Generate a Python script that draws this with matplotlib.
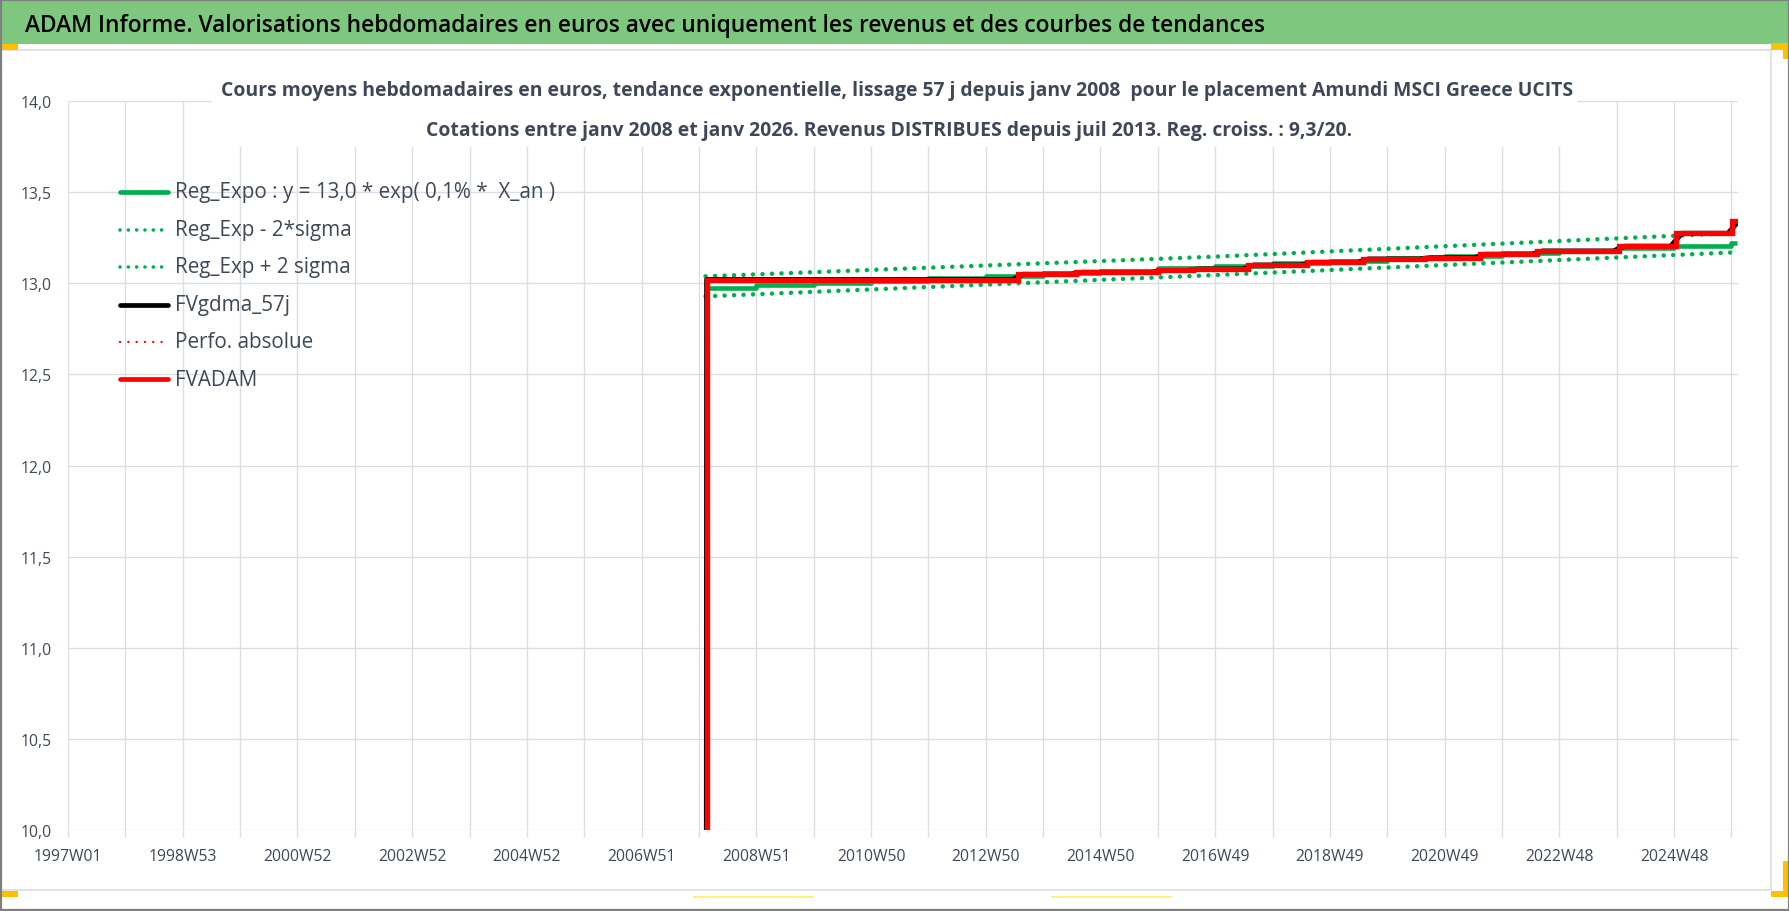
import matplotlib
matplotlib.use('Agg')
import matplotlib.pyplot as plt
from matplotlib.lines import Line2D
from matplotlib.patches import Rectangle
from matplotlib.ticker import FuncFormatter

# ---- data ----
tick_labels = ['1997W01', '1998W53', '2000W52', '2002W52', '2004W52', '2006W51',
               '2008W51', '2010W50', '2012W50', '2014W50', '2016W49', '2018W49',
               '2020W49', '2022W48', '2024W48']
n_weeks = 1514          # weekly categories from 1997W01 to janv 2026

# exponential regression (steps once a year)
trend_weeks = [578, 624, 676, 728, 780, 832, 884, 936, 988, 1040, 1092, 1144,
               1196, 1248, 1300, 1352, 1404, 1456, 1508, 1513]
trend_values = [12.974, 12.988, 13.001, 13.015, 13.028, 13.042, 13.056, 13.069,
                13.083, 13.096, 13.110, 13.124, 13.137, 13.151, 13.165, 13.178,
                13.192, 13.205, 13.219, 13.219]

# +/- 2 sigma bands
band_weeks = [578, 1040, 1513]
band_low = [12.928, 13.045, 13.170]
band_high = [13.038, 13.146, 13.276]

# FVADAM (value with distributed revenues)
fvadam_weeks = [578, 579, 861, 914, 988, 1020, 1070, 1123, 1174, 1230, 1280,
                1332, 1406, 1458, 1509, 1513]
fvadam_values = [0.0, 13.020, 13.049, 13.060, 13.070, 13.078, 13.100, 13.115,
                 13.133, 13.140, 13.159, 13.177, 13.203, 13.274, 13.343, 13.343]

# FVgdma_57j (smoothed)
gdma_weeks = [578, 579, 856, 866, 909, 919, 983, 993, 1015, 1025, 1065, 1075,
              1118, 1128, 1169, 1179, 1225, 1235, 1275, 1285, 1327, 1337, 1401,
              1411, 1453, 1463, 1505, 1513]
gdma_values = [0.0, 13.020, 13.020, 13.049, 13.049, 13.060, 13.060, 13.070,
               13.070, 13.078, 13.078, 13.100, 13.100, 13.115, 13.115, 13.133,
               13.133, 13.140, 13.140, 13.159, 13.159, 13.177, 13.177, 13.203,
               13.203, 13.274, 13.274, 13.330]

legend_labels = ['Reg_Expo : y = 13,0 * exp( 0,1% *  X_an )', 'Reg_Exp - 2*sigma',
                 'Reg_Exp + 2 sigma', 'FVgdma_57j', 'Perfo. absolue', 'FVADAM']

main_title = ('ADAM Informe. Valorisations hebdomadaires en euros avec uniquement '
              'les revenus et des courbes de tendances')
chart_title_1 = ('Cours moyens hebdomadaires en euros, tendance exponentielle, lissage 57 j '
                 'depuis janv 2008  pour le placement Amundi MSCI Greece UCITS')
chart_title_2 = ('Cotations entre janv 2008 et janv 2026. Revenus DISTRIBUES depuis '
                 'juil 2013. Reg. croiss. : 9,3/20.')

# ---- styling ----
W, H, DPI = 1790, 912, 100
FONT = 'Open Sans'
TXT = '#3E4858'
GRID = '#DADDE3'
GREEN = '#00B050'
RED = '#FF0000'
PT = 72 / DPI  # points per pixel


def fx(x):
    return x / W


def fy(y):
    return 1 - y / H


def fit_width(t, width):
    r = fig.canvas.get_renderer()
    w = t.get_window_extent(r).width
    t.set_fontsize(t.get_fontsize() * width / w)


plt.rcParams['font.family'] = [FONT, 'DejaVu Sans']

fig = plt.figure(figsize=(W / DPI, H / DPI), dpi=DPI)
fig.patch.set_facecolor('white')

ax = fig.add_axes([fx(68), fy(831), (1738 - 68) / W, (831 - 102) / H])
ax.set_xlim(0, n_weeks)
ax.set_ylim(10, 14)

dot = (0, (0.01, 2.1))
ax.step(trend_weeks, trend_values, where='post', color=GREEN, lw=4.6 * PT,
        solid_capstyle='butt', zorder=3)
ax.plot(band_weeks, band_low, color=GREEN, lw=4.5 * PT, linestyle=dot,
        dash_capstyle='round', zorder=4)
ax.plot(band_weeks, band_high, color=GREEN, lw=4.5 * PT, linestyle=dot,
        dash_capstyle='round', zorder=4)
ax.plot(gdma_weeks, gdma_values, color='black', lw=5 * PT, zorder=5)
ax.step(fvadam_weeks, fvadam_values, where='post', color=RED, lw=2.5 * PT,
        linestyle=dot, dash_capstyle='round', zorder=5)
ax.step(fvadam_weeks, fvadam_values, where='post', color=RED, lw=5.3 * PT,
        solid_joinstyle='miter', zorder=6)

# axes, grid and ticks
ax.set_xticks(range(0, n_weeks, 104))
ax.set_xticklabels(tick_labels)
ax.set_xticks(range(52, n_weeks, 104), minor=True)
ax.set_yticks([10 + 0.5 * i for i in range(9)])
ax.yaxis.set_major_formatter(FuncFormatter(lambda v, p: f'{v:.1f}'.replace('.', ',')))
ax.grid(True, which='both', color=GRID, lw=1.3 * PT, zorder=0)
ax.set_axisbelow(True)
for s in ax.spines.values():
    s.set_visible(False)
ax.tick_params(axis='x', which='both', length=7 * PT, width=1.3 * PT, color=GRID,
               direction='out', pad=8, labelsize=11.3, labelcolor=TXT)
ax.tick_params(axis='y', length=0, pad=11.5, labelsize=11.3, labelcolor=TXT)

# ---- frame decorations ----
fig.add_artist(Rectangle((fx(0), fy(45)), 1, 43 / H, transform=fig.transFigure,
                         facecolor='#7DC77E', edgecolor='none', zorder=-1))
fig.add_artist(Rectangle((fx(1), fy(891)), 1770 / W, (891 - 50.5) / H,
                         transform=fig.transFigure, facecolor='none',
                         edgecolor='#D9D9D9', lw=1.5 * PT, zorder=1))
for x0, y0, w, h, c in [(0, 45, 18, 6, '#FFC000'), (0, 892, 18, 6, '#FFC000'),
                        (1771, 44, 19, 7, '#FFC000'), (1783, 44, 7, 16, '#FFC000'),
                        (1771, 892, 19, 6, '#FFC000'), (1783, 862, 7, 36, '#FFC000'),
                        (693, 897, 120, 2, '#FFF27A'), (1051, 897, 120, 2, '#FFF27A')]:
    fig.add_artist(Rectangle((fx(x0), fy(y0 + h)), w / W, h / H,
                             transform=fig.transFigure, facecolor=c,
                             edgecolor='none', zorder=2))
fig.add_artist(Rectangle((0.0005, 0.001), 0.999, 0.998, transform=fig.transFigure,
                         facecolor='none', edgecolor='#7F7F7F', lw=2.2 * PT, zorder=3))

# white box behind the chart title
fig.add_artist(Rectangle((fx(212), fy(148)), (1577 - 212) / W, (148 - 62) / H,
                         transform=fig.transFigure, facecolor='white',
                         edgecolor='none', zorder=1))

t = fig.text(fx(25), fy(26), main_title, ha='left', va='center', color='black',
             fontsize=16, fontweight='semibold', zorder=4)
fit_width(t, 1248)
t1 = fig.text(fx(897), fy(91), chart_title_1, ha='center', va='center', color=TXT,
              fontsize=14, fontweight='bold', zorder=4)
fit_width(t1, 1355)
t2 = fig.text(fx(889), fy(131), chart_title_2, ha='center', va='center', color=TXT,
              fontsize=t1.get_fontsize(), fontweight='bold', zorder=4)

# ---- legend (drawn by hand to keep Excel's layout) ----
rows = [192.7, 230.7, 267.7, 305.7, 342.7, 380]
styles = [dict(color=GREEN, lw=4.7 * PT, solid_capstyle='round'),
          dict(color=GREEN, lw=3.6 * PT, linestyle=(0, (0.01, 2.3)), dash_capstyle='round'),
          dict(color=GREEN, lw=3.6 * PT, linestyle=(0, (0.01, 2.3)), dash_capstyle='round'),
          dict(color='black', lw=4.7 * PT, solid_capstyle='round'),
          dict(color=RED, lw=2.4 * PT, linestyle=(0, (0.01, 3.45)), dash_capstyle='round'),
          dict(color=RED, lw=4.7 * PT, solid_capstyle='round')]
leg_texts = []
for y, lab, st in zip(rows, legend_labels, styles):
    fig.add_artist(Line2D([fx(120), fx(168)], [fy(y), fy(y)], transform=fig.transFigure,
                          zorder=4, **st))
    leg_texts.append(fig.text(fx(175), fy(y), lab, ha='left', va='center',
                              color=TXT, fontsize=13, zorder=4))
fit_width(leg_texts[0], 378)
for lt in leg_texts[1:]:
    lt.set_fontsize(leg_texts[0].get_fontsize())

fig.savefig('out.png', dpi=DPI, facecolor='white')
